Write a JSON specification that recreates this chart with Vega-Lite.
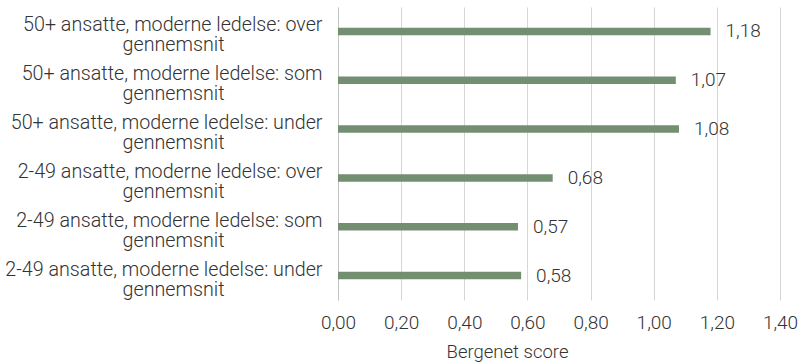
{
  "$schema": "https://vega.github.io/schema/vega-lite/v6.json",
  "width": 442,
  "height": 293,
  "autosize": {"type": "none"},
  "padding": {"left": 338, "top": 7, "right": 21, "bottom": 62},
  "background": "white",
  "config": {
    "view": {"stroke": null},
    "font": "Roboto",
    "locale": {"number": {"decimal": ",", "thousands": ".", "grouping": [3], "currency": ["", " kr"]}},
    "axis": {"labelFont": "Roboto", "titleFont": "Roboto", "labelColor": "#333333", "titleColor": "#333333", "labelFontSize": 19, "titleFontSize": 18.5, "labelFontWeight": 300, "titleFontWeight": 300}
  },
  "data": {
    "values": [
      {"kategori": "50+ ansatte, moderne ledelse: over gennemsnit", "score": 1.18},
      {"kategori": "50+ ansatte, moderne ledelse: som gennemsnit", "score": 1.07},
      {"kategori": "50+ ansatte, moderne ledelse: under gennemsnit", "score": 1.08},
      {"kategori": "2-49 ansatte, moderne ledelse: over gennemsnit", "score": 0.68},
      {"kategori": "2-49 ansatte, moderne ledelse: som gennemsnit", "score": 0.57},
      {"kategori": "2-49 ansatte, moderne ledelse: under gennemsnit", "score": 0.58}
    ]
  },
  "encoding": {
    "y": {"field": "kategori", "type": "nominal", "sort": null, "scale": {"paddingInner": 0, "paddingOuter": 0}},
    "x": {"field": "score", "type": "quantitative", "scale": {"domain": [0, 1.4], "nice": false}}
  },
  "layer": [
    {
      "mark": {"type": "bar", "size": 7.5, "color": "#748e72"},
      "encoding": {
        "x": {
          "field": "score", "type": "quantitative",
          "axis": {
            "title": "Bergenet score", "values": [0, 0.2, 0.4, 0.6, 0.8, 1.0, 1.2, 1.4], "format": ".2f",
            "domain": false, "ticks": false, "labelFlush": false, "labelPadding": 13, "titlePadding": 10,
            "titleX": 169, "titleAlign": "center",
            "grid": true, "gridColor": "#d6d6d6", "gridWidth": 1
          }
        },
        "y": {
          "field": "kategori", "type": "nominal", "sort": null,
          "axis": {
            "title": null, "ticks": false, "domain": true, "domainColor": "#c4c4c4",
            "labelAlign": "right", "labelBaseline": "alphabetic", "labelPadding": 16, "labelLimit": 400, "labelFontSize": 19.7,
            "labelExpr": "substring(datum.label, 0, lastindexof(datum.label, ' '))"
          }
        }
      }
    },
    {
      "mark": {"type": "text", "align": "left", "baseline": "middle", "dx": 15, "fontSize": 19, "fontWeight": 300, "font": "Roboto", "color": "#333333"},
      "encoding": {
        "text": {"field": "score", "type": "quantitative", "format": ".2f"},
        "y": {
          "field": "kategori", "type": "nominal", "sort": null,
          "axis": {
            "title": null, "orient": "left", "ticks": false, "domain": false,
            "labelAlign": "center", "labelBaseline": "alphabetic", "labelPadding": 165, "labelOffset": 20, "labelLimit": 400, "labelFontSize": 19.7,
            "labelExpr": "substring(datum.label, lastindexof(datum.label, ' ') + 1)"
          }
        }
      }
    }
  ],
  "resolve": {"axis": {"y": "independent"}}
}
